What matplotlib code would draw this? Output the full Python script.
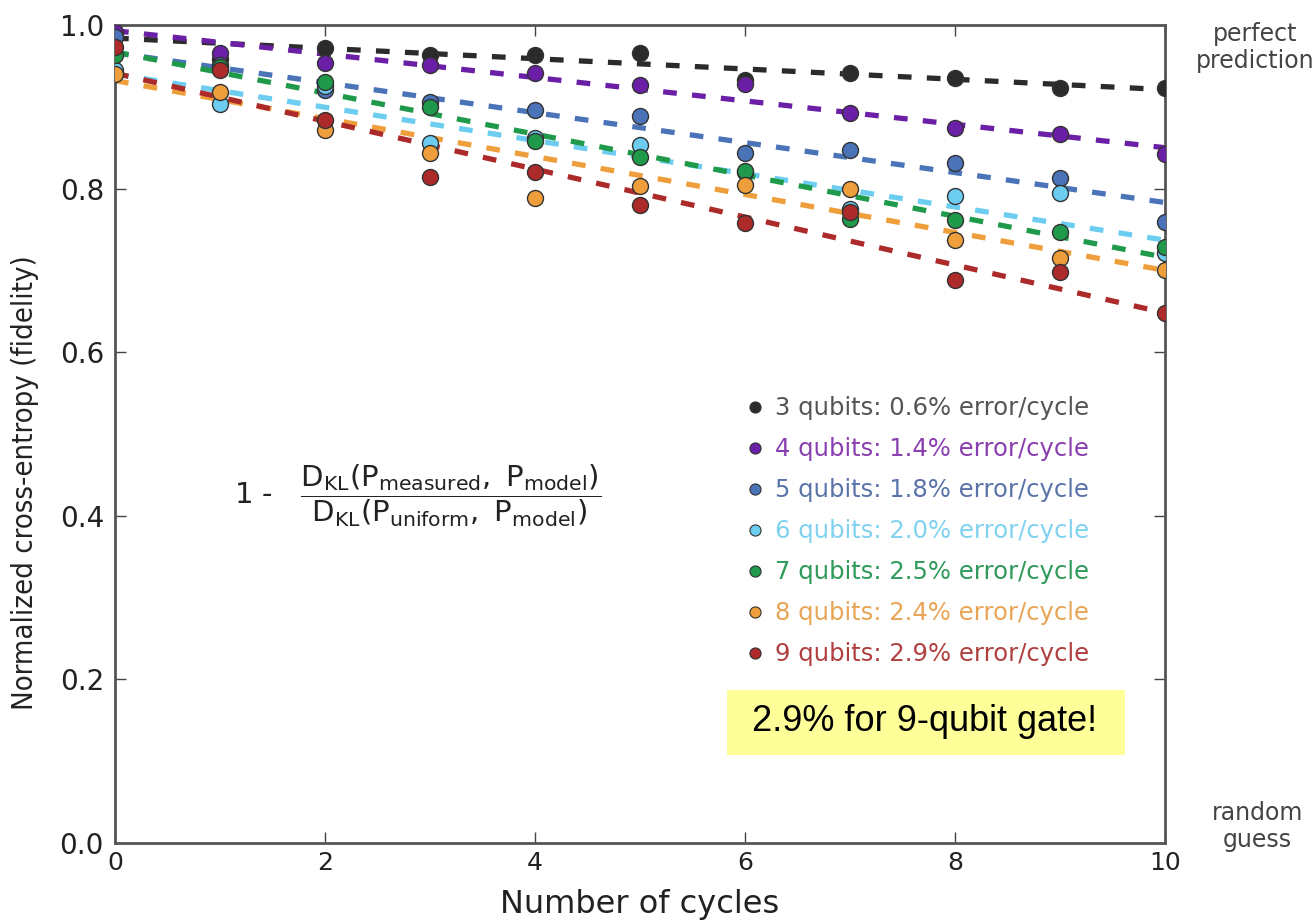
import numpy as np
import matplotlib as mpl
import matplotlib.pyplot as plt
from matplotlib.lines import Line2D
from matplotlib.patches import Rectangle

mpl.use('Agg')

# number of cycles
cycles = [0, 1, 2, 3, 4, 5, 6, 7, 8, 9, 10]

# measured fidelity per qubit count
fid_3q = [0.990, 0.958, 0.972, 0.963, 0.963, 0.966, 0.933, 0.941, 0.935, 0.923, 0.923]
fid_4q = [0.992, 0.966, 0.953, 0.951, 0.941, 0.927, 0.928, 0.892, 0.874, 0.867, 0.842]
fid_5q = [0.985, 0.951, 0.921, 0.906, 0.896, 0.889, 0.843, 0.847, 0.831, 0.813, 0.759]
fid_6q = [0.945, 0.903, 0.925, 0.856, 0.862, 0.853, 0.820, 0.775, 0.791, 0.795, 0.721]
fid_7q = [0.963, 0.949, 0.930, 0.900, 0.858, 0.839, 0.822, 0.763, 0.762, 0.747, 0.729]
fid_8q = [0.940, 0.918, 0.872, 0.844, 0.789, 0.803, 0.804, 0.800, 0.737, 0.715, 0.700]
fid_9q = [0.973, 0.945, 0.884, 0.814, 0.820, 0.780, 0.758, 0.771, 0.688, 0.698, 0.648]

# fit lines, value at cycle 0 and cycle 10
fit_x = [0, 10]
fit_3q = [0.984, 0.921]
fit_4q = [0.993, 0.850]
fit_5q = [0.966, 0.783]
fit_6q = [0.940, 0.737]
fit_7q = [0.967, 0.716]
fit_8q = [0.932, 0.700]
fit_9q = [0.941, 0.648]

labels = ['3 qubits: 0.6% error/cycle', '4 qubits: 1.4% error/cycle',
          '5 qubits: 1.8% error/cycle', '6 qubits: 2.0% error/cycle',
          '7 qubits: 2.5% error/cycle', '8 qubits: 2.4% error/cycle',
          '9 qubits: 2.9% error/cycle']

point_colors = ['#2b2b2b', '#6a1fa6', '#4a73b8', '#6ccdf0', '#1f9a4a', '#ee9e3a', '#ad2a2a']
text_colors = ['#555555', '#8a3fb0', '#5a74aa', '#80d2f0', '#2f9a5a', '#e8a555', '#b04040']

series = [fid_3q, fid_4q, fid_5q, fid_6q, fid_7q, fid_8q, fid_9q]
fits = [fit_3q, fit_4q, fit_5q, fit_6q, fit_7q, fit_8q, fit_9q]

fig = plt.figure(figsize=(13.16, 9.22), dpi=100)
ax = fig.add_axes([0.0874, 0.0857, 0.7978, 0.8872])

for ys, fy, c in zip(series, fits, point_colors):
    ax.plot(fit_x, fy, color=c, lw=3.8, dashes=(2.6, 2.9), zorder=2)
    ax.plot(cycles, ys, 'o', color=c, markersize=11.5, markeredgecolor='#333333',
            markeredgewidth=1.0, zorder=3)

ax.set_xlim(0, 10)
ax.set_ylim(0, 1.0)
ax.set_xticks([0, 2, 4, 6, 8, 10])
ax.set_yticks([0.0, 0.2, 0.4, 0.6, 0.8, 1.0])
ax.set_yticklabels(['0.0', '0.2', '0.4', '0.6', '0.8', '1.0'])
ax.tick_params(direction='in', length=8, width=1, top=True, right=True,
               colors='#444444', labelcolor='#222222', labelsize=18, pad=6)
ax.tick_params(axis='y', labelsize=20, pad=8)
for s in ax.spines.values():
    s.set_color('#555555')
    s.set_linewidth(2)

ax.set_xlabel('Number of cycles', fontsize=23, color='#222222', labelpad=10)
ax.set_ylabel('Normalized cross-entropy (fidelity)', fontsize=21, color='#222222',
              fontstretch='condensed')
ax.yaxis.set_label_coords(-0.072, 0.44)

# legend
handles = [Line2D([], [], ls='none', marker='o', markersize=8, color=c,
                  markeredgecolor='#333333', markeredgewidth=0.8) for c in point_colors]
ax.legend(handles, labels, loc='upper left', bbox_to_anchor=(0.581, 0.573),
          frameon=False, fontsize=17.5, labelcolor=text_colors,
          handlelength=0.7, handletextpad=0.45, labelspacing=0.7)

# formula
ax.text(2.88, 0.425,
        r'$1\ \text{-}\quad\dfrac{\mathrm{D_{KL}(P_{measured},\ P_{model})}}{\mathrm{D_{KL}(P_{uniform},\ P_{model})}}$',
        fontsize=21, color='#222222', ha='center', va='center')

# highlight box
ax.add_patch(Rectangle((5.83, 0.1076), 3.79, 0.0794, fc='#ffff99', ec='none', zorder=4))
ax.text(7.71, 0.148, '2.9% for 9-qubit gate!', fontsize=26, family='Liberation Sans',
        ha='center', va='center', color='black', zorder=5)

# right side annotations
ax.text(1.086, 0.972, 'perfect\nprediction', transform=ax.transAxes, ha='center',
        va='center', fontsize=17, color='#444444', linespacing=1.15)
ax.text(1.088, 0.02, 'random\nguess', transform=ax.transAxes, ha='center',
        va='center', fontsize=17, color='#444444', linespacing=1.15)

fig.savefig('out.png', dpi=100)
